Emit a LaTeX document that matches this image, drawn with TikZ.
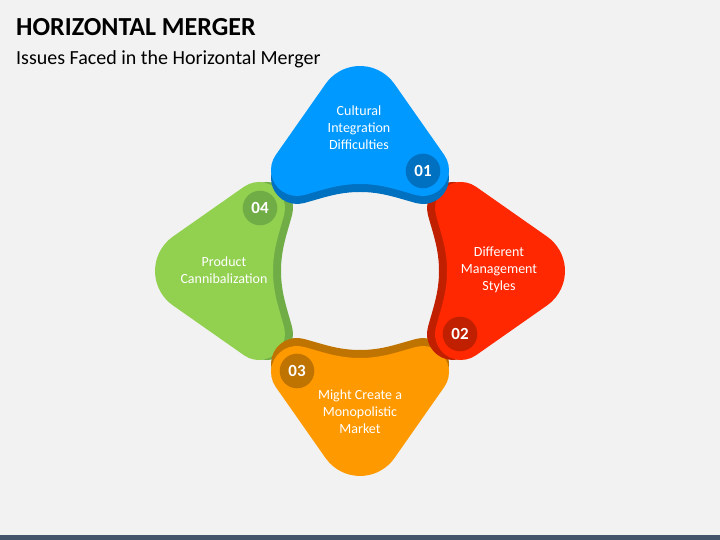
\documentclass[tikz,border=0pt]{standalone}
\usepackage{fontspec}
\setmainfont{Carlito}
\definecolor{bgc}{RGB}{242,242,242}
\definecolor{barc}{RGB}{68,84,106}
\definecolor{blueA}{RGB}{0,153,255}
\definecolor{blueB}{RGB}{0,112,192}
\definecolor{redA}{RGB}{255,40,0}
\definecolor{redB}{RGB}{192,32,0}
\definecolor{orgA}{RGB}{255,153,0}
\definecolor{orgB}{RGB}{191,115,0}
\definecolor{grnA}{RGB}{146,208,80}
\definecolor{grnB}{RGB}{112,173,71}
\tikzset{
  badge/.style={circle, minimum size=34.6bp, inner sep=0pt, text=white,
    font=\bfseries\fontsize{17bp}{20bp}\selectfont},
  label/.style={align=center, text=white, inner sep=0pt,
    font=\fontsize{14bp}{17bp}\selectfont},
}
% #1 rotation, #2 main colour, #3 dark colour, #4 badge name, #5 badge text
\newcommand\petalshape[5]{%
  \begin{scope}[shift={(360,269)}, rotate=#1]
    \fill[#3, yshift=-8bp] (34.39,187.10) arc[start angle=35.03, end angle=144.97, radius=42]
      -- (-84.29,115.92) arc[start angle=144.97, end angle=285, radius=26]
      .. controls (-36.95,81.07) and (-22,87) .. (0,87)
      .. controls (22,87) and (36.95,81.07) .. (56.27,75.89)
      arc[start angle=255, end angle=395.03, radius=26] -- cycle;
    \fill[#2] (34.39,187.10) arc[start angle=35.03, end angle=144.97, radius=42]
      -- (-84.29,115.92) arc[start angle=144.97, end angle=285, radius=26]
      .. controls (-36.95,81.07) and (-22,87) .. (0,87)
      .. controls (22,87) and (36.95,81.07) .. (56.27,75.89)
      arc[start angle=255, end angle=395.03, radius=26] -- cycle;
    \node[badge, fill=#3] (#4) at (63,100) {#5};
  \end{scope}}
\begin{document}
\begin{tikzpicture}[x=1bp, y=1bp]
  \fill[bgc] (0,0) rectangle (720,540);
  \useasboundingbox (0,0) rectangle (720,540);
  \fill[barc] (0,0) rectangle (720,5);
  \node[anchor=base west, inner sep=0pt, font=\bfseries\fontsize{26bp}{31bp}\selectfont] (title) at (16,504) {HORIZONTAL MERGER};
  \node[anchor=base west, inner sep=0pt, font=\fontsize{20bp}{24bp}\selectfont] (subtitle) at (16,475) {Issues Faced in the Horizontal Merger};
  \petalshape{90}{grnA}{grnB}{b4}{04}
  \petalshape{180}{orgA}{orgB}{b3}{03}
  \petalshape{-90}{redA}{redB}{b2}{02}
  \petalshape{0}{blueA}{blueB}{b1}{01}
  \node[label] (t1) at (359,412.3) {Cultural\\Integration\\Difficulties};
  \node[label] (t2) at (499,270.7) {Different\\Management\\Styles};
  \node[label] (t3) at (360,128.7) {Might Create a\\Monopolistic\\Market};
  \node[label] (t4) at (224,270.3) {Product\\Cannibalization};
\end{tikzpicture}
\end{document}
